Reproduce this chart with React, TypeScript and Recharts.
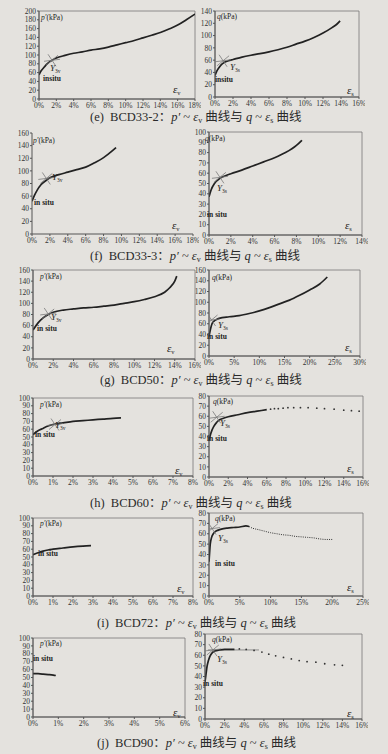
import React from "react";
import { ComposedChart, Line, Scatter, XAxis, YAxis, ReferenceArea, ReferenceLine } from "recharts";

type Pt = { x: number; y: number };
const pts = (a: number[][]): Pt[] => a.map(([x, y]) => ({ x, y }));

// tick labels
const pct18 = [0, 2, 4, 6, 8, 10, 12, 14, 16, 18];
const pct16 = [0, 2, 4, 6, 8, 10, 12, 14, 16];
const pct14 = [0, 2, 4, 6, 8, 10, 12, 14];
const pct30 = [0, 5, 10, 15, 20, 25, 30];
const pct25 = [0, 5, 10, 15, 20, 25];
const pct8 = [0, 1, 2, 3, 4, 5, 6, 7, 8];
const pct6 = [0, 1, 2, 3, 4, 5, 6];
const kpa200 = [0, 20, 40, 60, 80, 100, 120, 140, 160, 180, 200];
const kpa160 = [0, 20, 40, 60, 80, 100, 120, 140, 160];
const kpa140 = [0, 20, 40, 60, 80, 100, 120, 140];
const kpa100 = [0, 10, 20, 30, 40, 50, 60, 70, 80, 90, 100];
const kpa80 = [0, 10, 20, 30, 40, 50, 60, 70, 80];

// (e) BCD33-2
const eP = pts([[0, 55], [0.25, 64], [0.5, 70], [0.75, 76], [1, 81], [1.5, 88], [2, 93], [3, 99], [4, 104], [5, 107], [6, 111], [7, 114], [8, 118], [9, 123], [10, 128], [11, 133], [12, 139], [13, 145], [14, 151], [15, 159], [16, 168], [17, 180], [18, 193]]);
const eQ = pts([[0, 35], [0.2, 42], [0.5, 49], [0.8, 54], [1, 56], [1.5, 59], [2, 61], [3, 65], [4, 68], [5, 70.5], [6, 73.5], [7, 77], [8, 81], [9, 86], [10, 91], [11, 97], [12, 104], [13, 113], [13.5, 118], [13.9, 124]]);
// (f) BCD33-3
const fP = pts([[0, 52], [0.3, 62], [0.6, 70], [1, 78], [1.5, 84], [2, 89], [3, 94], [4, 98], [5, 102], [6, 106], [7, 113], [8, 121], [9, 132], [9.4, 137]]);
const fQ = pts([[0, 37], [0.2, 44], [0.5, 50], [1, 55], [1.5, 57.5], [2, 59.5], [3, 63], [4, 67], [5, 71], [6, 75], [7, 80], [8, 87], [8.5, 92]]);
// (g) BCD50
const gP = pts([[0, 52], [0.5, 65], [1, 74], [1.5, 80], [2, 84], [3, 88], [4, 90], [5, 92], [6, 93], [7, 95], [8, 97], [9, 100], [10, 103], [11, 107], [12, 112], [13, 120], [13.5, 128], [14, 140], [14.2, 149]]);
const gQ = pts([[0, 36], [0.3, 50], [0.6, 60], [1, 65], [1.5, 68], [2, 70], [4, 73], [6, 75], [8, 79], [10, 84], [12, 90], [14, 97], [16, 104], [18, 113], [20, 123], [22, 134], [23.5, 147]]);
// (h) BCD60
const hP = pts([[0, 53], [0.25, 58], [0.5, 61], [0.75, 64], [1, 66], [1.5, 68], [2, 70], [2.5, 71], [3, 72], [3.5, 73], [4, 74], [4.4, 74.5]]);
const hQ = pts([[0, 36], [0.1, 40], [0.3, 46], [0.5, 50], [0.8, 54], [1, 56], [1.5, 58], [2, 59.5], [3, 61.5], [4, 63.5], [5, 65], [6, 66.5]]);
const hQDots = pts([[6.4, 67], [6.8, 67.5], [7.2, 67.5], [7.7, 68], [8.2, 68.5], [8.8, 68.5], [9.5, 68.5], [10.3, 68.5], [11.2, 68], [12, 67.5], [13, 67], [14, 66], [14.8, 65.5], [15.6, 65]]);
// (i) BCD72
const iP = pts([[0, 53], [0.25, 55.5], [0.5, 57.5], [0.75, 59], [1, 60], [1.5, 61.5], [2, 63], [2.5, 64], [2.9, 64.5]]);
const iQ = pts([[0, 33], [0.1, 42], [0.2, 50], [0.4, 56], [0.7, 60], [1, 62], [1.5, 63.5], [2, 64.5], [3, 65.5], [4, 66], [5, 66.5], [6, 67.5], [6.5, 67]]);
const iQTail = pts([[6.5, 67], [7, 65.5], [8, 64], [9, 62.5], [10, 61], [11, 60], [12, 59], [13, 58.5], [14, 57.5], [15, 57], [16, 56.5], [17, 56], [18, 55], [19, 54.5], [20, 54.5]]);
// (j) BCD90
const jP = pts([[0, 55], [0.2, 54.8], [0.4, 54.3], [0.6, 53.7], [0.8, 53], [0.9, 52.5]]);
const jQ = pts([[0, 35], [0.1, 42], [0.2, 49], [0.35, 55], [0.5, 59], [0.75, 62.5], [1, 64], [1.5, 65], [2, 65.5], [2.5, 65.5], [3, 65.5]]);
const jQDots = pts([[3.5, 66], [4.2, 65.5], [5, 64.5], [5.8, 63], [6.5, 61], [7.2, 59.5], [8, 58], [8.8, 56.5], [9.6, 55], [10.4, 54], [11.3, 53.5], [12.2, 52], [13.2, 51], [14, 50.5]]);
const jQTangent = pts([[0.3, 65], [5.5, 65]]);

// yield points Y3
const yieldE = pts([[1.5, 88]]);
const yieldEq = pts([[0.9, 59]]);
const yieldF = pts([[1.6, 88]]);
const yieldFq = pts([[1.0, 56]]);
const yieldG = pts([[1.5, 81]]);
const yieldGq = pts([[0.5, 67]]);
const yieldH = pts([[1.1, 66]]);
const yieldHq = pts([[0.8, 59]]);
const yieldIq = pts([[0.5, 65]]);
const yieldJq = pts([[0.8, 65]]);

const FONT = "'Liberation Serif', 'Times New Roman', serif";
const INK = "#222";

type Def = {
  left: number; right: number; top: number; bottom: number;
  xTicks: number[]; yTicks: number[]; frame?: boolean;
  line: Pt[]; tail?: Pt[]; dots?: Pt[]; star?: Pt[]; tangent?: Pt[];
  kind: "p" | "q"; lab: [number, number]; yl?: [number, number]; situ: [number, number]; situText: string; eps: [number, number];
};

const Star = (props: any) => {
  const { cx, cy } = props;
  return (
    <g stroke="#7a7a7a" strokeWidth={0.8}>
      <line x1={cx - 8} y1={cy + 1} x2={cx + 8} y2={cy - 1} />
      <line x1={cx - 6} y1={cy + 5} x2={cx + 6} y2={cy - 5} />
      <line x1={cx - 4} y1={cy - 6} x2={cx + 4} y2={cy + 6} />
    </g>
  );
};
const Dot = (props: any) => <circle cx={props.cx} cy={props.cy} r={0.9} fill="#333" />;

function Panel({ d }: { d: Def }) {
  const yw = 22, mt = 6, mr = 6, xh = 16;
  const w = yw + (d.right - d.left) + mr;
  const h = mt + (d.bottom - d.top) + xh;
  const xMax = d.xTicks[d.xTicks.length - 1];
  const yMax = d.yTicks[d.yTicks.length - 1];
  const tick = { fontSize: 7.5, fill: "#333", fontFamily: FONT };
  return (
    <div style={{ position: "absolute", left: d.left - yw, top: d.top - mt }}>
      <ComposedChart width={w} height={h} margin={{ top: mt, right: mr, bottom: 0, left: 0 }}>
        <XAxis type="number" dataKey="x" domain={[0, xMax]} ticks={d.xTicks} tickFormatter={(v) => `${v}%`} height={xh} tick={tick} tickSize={2} tickMargin={2} stroke="#555" interval={0} allowDataOverflow />
        <YAxis type="number" dataKey="y" domain={[0, yMax]} ticks={d.yTicks} width={yw} tick={tick} tickSize={2} tickMargin={1} stroke="#555" interval={0} allowDataOverflow />
        {d.frame !== false && <ReferenceArea x1={0} x2={xMax} y1={0} y2={yMax} fill="none" stroke="#777" strokeWidth={0.8} ifOverflow="visible" />}
        {d.tangent && <ReferenceLine segment={d.tangent} stroke="#777" strokeWidth={0.8} />}
        <Line data={d.line} dataKey="y" type="monotone" stroke={INK} strokeWidth={1.7} dot={false} isAnimationActive={false} />
        {d.tail && <Line data={d.tail} dataKey="y" type="monotone" stroke="#333" strokeWidth={1} strokeDasharray="1 1.2" dot={false} isAnimationActive={false} />}
        {d.dots && <Scatter data={d.dots} dataKey="y" shape={Dot} isAnimationActive={false} />}
        {d.star && <Scatter data={d.star} dataKey="y" shape={Star} isAnimationActive={false} />}
      </ComposedChart>
    </div>
  );
}

// text notes as svg text (centre y given)
function PanelText({ d }: { d: Def }) {
  const base = (y: number, s: number) => y + s * 0.35;
  return (
    <g fontFamily={FONT} fill={INK}>
      <text x={d.lab[0]} y={base(d.lab[1], 7.5)} fontSize={7.5}>
        <tspan fontStyle="italic">{d.kind === "p" ? "p′" : "q"}</tspan>(kPa)
      </text>
      {d.yl && (
        <text x={d.yl[0]} y={base(d.yl[1], 9)} fontSize={9}>
          <tspan fontStyle="italic">Y</tspan>
          <tspan fontSize={5.5} dy={2}>{d.kind === "p" ? "3v" : "3s"}</tspan>
        </text>
      )}
      <text x={d.situ[0]} y={base(d.situ[1], 7.5)} fontSize={7.5} fontWeight={700}>{d.situText}</text>
      <text x={d.eps[0]} y={base(d.eps[1], 11)} fontSize={11}>
        <tspan fontStyle="italic">ε</tspan>
        <tspan fontSize={6.5} dy={2}>{d.kind === "p" ? "v" : "s"}</tspan>
      </text>
    </g>
  );
}

const panels: Def[] = [
  { left: 39, right: 195, top: 11, bottom: 99, xTicks: pct18, yTicks: kpa200, line: eP, star: yieldE, kind: "p", lab: [41, 17], yl: [50, 68], situ: [43, 78], situText: "insitu", eps: [173, 89] },
  { left: 215, right: 359, top: 11, bottom: 97, xTicks: pct16, yTicks: kpa140, line: eQ, star: yieldEq, kind: "q", lab: [217, 16], yl: [230, 67], situ: [215, 79], situText: "insitu", eps: [347, 90] },
  { left: 32, right: 193, top: 133, bottom: 234, xTicks: pct18, yTicks: kpa160, frame: false, line: fP, star: yieldF, kind: "p", lab: [33, 140], yl: [52, 177], situ: [34, 202], situText: "in situ", eps: [172, 225] },
  { left: 209, right: 362, top: 132, bottom: 235, xTicks: pct14, yTicks: kpa100, line: fQ, star: yieldFq, kind: "q", lab: [205, 138], yl: [217, 188], situ: [207, 214], situText: "in situ", eps: [345, 225] },
  { left: 33, right: 195, top: 270, bottom: 359, xTicks: pct16, yTicks: kpa160, line: gP, star: yieldG, kind: "p", lab: [40, 276], yl: [51, 317], situ: [37, 328], situText: "in situ", eps: [167, 348] },
  { left: 209, right: 360, top: 270, bottom: 356, xTicks: pct30, yTicks: kpa160, line: gQ, star: yieldGq, kind: "q", lab: [212, 277], yl: [218, 325], situ: [207, 336], situText: "in situ", eps: [345, 347] },
  { left: 33, right: 193, top: 398, bottom: 476, xTicks: pct8, yTicks: kpa100, line: hP, star: yieldH, kind: "p", lab: [40, 404], yl: [55, 425], situ: [35, 434], situText: "in situ", eps: [175, 470] },
  { left: 209, right: 363, top: 396, bottom: 477, xTicks: pct16, yTicks: kpa80, line: hQ, dots: hQDots, star: yieldHq, kind: "q", lab: [213, 401], yl: [220, 423], situ: [207, 438], situText: "in situ", eps: [347, 468] },
  { left: 33, right: 193, top: 518, bottom: 596, xTicks: pct8, yTicks: kpa100, line: iP, kind: "p", lab: [40, 523], situ: [38, 553], situText: "in situ", eps: [177, 588] },
  { left: 209, right: 363, top: 513, bottom: 596, xTicks: pct25, yTicks: kpa80, line: iQ, tail: iQTail, star: yieldIq, kind: "q", lab: [215, 518], yl: [218, 538], situ: [215, 563], situText: "in situ", eps: [347, 587] },
  { left: 33, right: 185, top: 638, bottom: 717, xTicks: pct6, yTicks: kpa100, line: jP, kind: "p", lab: [40, 643], situ: [33, 658], situText: "in situ", eps: [173, 712] },
  { left: 205, right: 362, top: 634, bottom: 719, xTicks: pct16, yTicks: kpa80, line: jQ, dots: jQDots, star: yieldJq, tangent: jQTangent, kind: "q", lab: [212, 639], yl: [217, 659], situ: [203, 683], situText: "in situ", eps: [347, 713] },
];

const captions: [number, number, string, string][] = [
  [90, 116, "e", "BCD33-2"],
  [90, 255, "f", "BCD33-3"],
  [100, 379, "g", "BCD50"],
  [90, 502, "h", "BCD60"],
  [97, 622, "i", "BCD72"],
  [97, 742, "j", "BCD90"],
];

function Caption({ x, y, tag, name }: { x: number; y: number; tag: string; name: string }) {
  return (
    <text x={x} y={y + 4.5} fontSize={12.5} fontFamily="'Liberation Serif', 'Noto Sans CJK SC', serif" fill="#2a2a2a" style={{ whiteSpace: "pre" }}>
      {`(${tag})  ${name}：`}
      <tspan fontStyle="italic">p′</tspan>
      {" ~ "}
      <tspan fontStyle="italic">ε</tspan>
      <tspan fontSize={8} dy={2}>v</tspan>
      <tspan dy={-2}>{" 曲线与 "}</tspan>
      <tspan fontStyle="italic">q</tspan>
      {" ~ "}
      <tspan fontStyle="italic">ε</tspan>
      <tspan fontSize={8} dy={2}>s</tspan>
      <tspan dy={-2}>{" 曲线"}</tspan>
    </text>
  );
}

export default function App() {
  return (
    <div style={{ position: "absolute", left: 0, top: 0, width: 388, height: 754, background: "#e4e2de", overflow: "hidden" }}>
      {panels.map((d, i) => (
        <Panel key={i} d={d} />
      ))}
      <svg width={388} height={754} style={{ position: "absolute", left: 0, top: 0, pointerEvents: "none" }}>
        {panels.map((d, i) => (
          <PanelText key={i} d={d} />
        ))}
        {captions.map(([x, y, t, n]) => (
          <Caption key={t} x={x} y={y} tag={t} name={n} />
        ))}
      </svg>
    </div>
  );
}
